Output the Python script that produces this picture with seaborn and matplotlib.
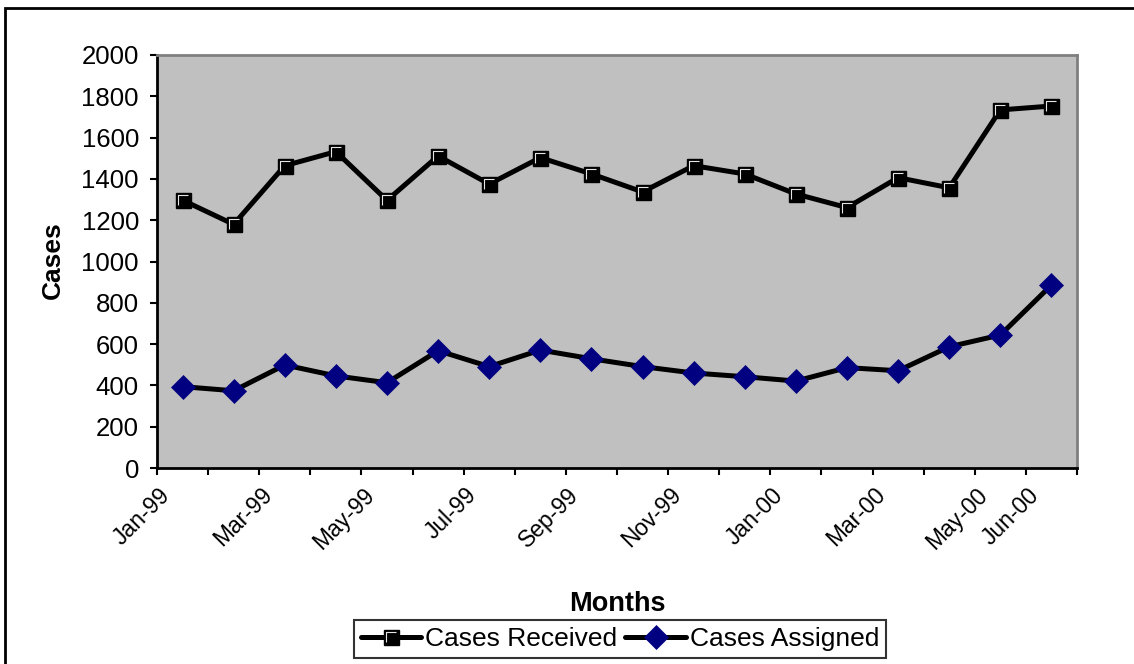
import numpy as np
import pandas as pd
import matplotlib
matplotlib.use("Agg")
import matplotlib.pyplot as plt
import matplotlib.transforms as mtransforms
from matplotlib.path import Path
from matplotlib.patches import Rectangle
from matplotlib.ticker import FixedLocator
import seaborn as sns

# Monthly caseload, Jan 1999 - Jun 2000
months = ["Jan-99", "Feb-99", "Mar-99", "Apr-99", "May-99", "Jun-99",
          "Jul-99", "Aug-99", "Sep-99", "Oct-99", "Nov-99", "Dec-99",
          "Jan-00", "Feb-00", "Mar-00", "Apr-00", "May-00", "Jun-00"]
cases_received = [1297, 1180, 1464, 1532, 1296, 1511, 1375, 1503, 1424,
                  1337, 1464, 1424, 1327, 1261, 1406, 1357, 1734, 1753]
cases_assigned = [394, 374, 499, 446, 413, 568, 491, 571, 529,
                  491, 460, 442, 421, 486, 471, 587, 644, 886]
shown_labels = ["Jan-99", "Mar-99", "May-99", "Jul-99", "Sep-99",
                "Nov-99", "Jan-00", "Mar-00", "May-00", "Jun-00"]
y_ticks = list(range(0, 2001, 200))

df = pd.DataFrame({"pos": np.arange(len(months)),
                   "month": months,
                   "received": cases_received,
                   "assigned": cases_assigned})

sns.set_style("white")
plt.rcParams["font.family"] = ["Liberation Sans", "DejaVu Sans"]
plt.rcParams.update({"text.color": "black", "axes.labelcolor": "black",
                     "xtick.color": "black", "ytick.color": "black"})

W, H = 1134, 664
fig = plt.figure(figsize=(W / 100, H / 100), dpi=100)
fig.patch.set_facecolor("white")

# plot area in pixel coordinates
left, right, top, bottom = 157, 1077, 55, 468
ax = fig.add_axes([left / W, 1 - bottom / H, (right - left) / W, (bottom - top) / H])
ax.set_facecolor("#C0C0C0")

# square marker highlight (top-left bevel)
bevel = Path([(-1, -1), (-1, 1), (1, 1)], [Path.MOVETO, Path.LINETO, Path.LINETO])

sns.lineplot(data=df, x="pos", y="received", ax=ax, color="black", lw=3.6,
             marker="s", ms=10.8, mfc="black", mec="black", mew=1.0,
             legend=False, zorder=3)
sns.lineplot(data=df, x="pos", y="received", ax=ax, linestyle="none",
             marker=bevel, ms=7.4, mfc="none", mec="#e6e6e6", mew=0.8,
             legend=False, zorder=4)
sns.lineplot(data=df, x="pos", y="assigned", ax=ax, color="black", lw=3.6,
             marker="D", ms=12.5, mfc="#000080", mec="#000080", mew=0.5,
             legend=False, zorder=3)

lines = ax.get_lines()
line_recv, line_bevel, line_asg = lines[0], lines[1], lines[2]

ax.set_xlim(-0.5, len(months) - 0.5)
ax.set_ylim(0, 2000)
ax.set_yticks(y_ticks)
ax.set_yticklabels([str(v) for v in y_ticks])

# category boundaries as tick marks, labels on selected months
ax.xaxis.set_minor_locator(FixedLocator(np.arange(-0.5, len(months), 1.0)))
label_pos = [months.index(m) for m in shown_labels]
ax.set_xticks(label_pos)
ax.set_xticklabels(shown_labels, rotation=45, ha="right")
ax.tick_params(axis="x", which="major", length=0, pad=11, labelsize=16.5)
ax.tick_params(axis="x", which="minor", length=5, width=1.5, color="black",
               direction="out", bottom=True)
ax.tick_params(axis="y", which="major", length=5, width=1.5, color="black",
               direction="out", pad=8, labelsize=18.5, left=True)
offset = mtransforms.ScaledTranslation(-0.08, 0, fig.dpi_scale_trans)
for lbl in ax.get_xticklabels():
    lbl.set_transform(lbl.get_transform() + offset)

ax.set_xlabel("")
ax.set_ylabel("")
for side in ("left", "bottom"):
    ax.spines[side].set_color("black")
    ax.spines[side].set_linewidth(2)
for side in ("top", "right"):
    ax.spines[side].set_visible(True)
    ax.spines[side].set_color("#808080")
    ax.spines[side].set_linewidth(2)
ax.grid(False)

fig.text(53 / W, 1 - 260 / H, "Cases", rotation=90, ha="center", va="center",
         fontsize=19, fontweight="bold")
fig.text(617 / W, 1 - 604 / H, "Months", ha="center", va="center",
         fontsize=19.5, fontweight="bold")

leg = fig.legend([(line_recv, line_bevel), line_asg],
                 ["Cases Received", "Cases Assigned"],
                 loc="center", bbox_to_anchor=(620 / W, 1 - 639 / H),
                 ncol=2, frameon=True, fancybox=False, fontsize=19,
                 handlelength=2.3, handletextpad=0.15, columnspacing=0.3,
                 borderpad=0.25, borderaxespad=0, numpoints=1)
leg.get_frame().set_edgecolor("black")
leg.get_frame().set_linewidth(1.5)

# chart area border
fig.add_artist(Rectangle((5 / W, -0.05), 1.2, 1 - 8 / H + 0.05,
                         transform=fig.transFigure, fill=False,
                         edgecolor="black", linewidth=2))

fig.savefig("out.png", dpi=100)
